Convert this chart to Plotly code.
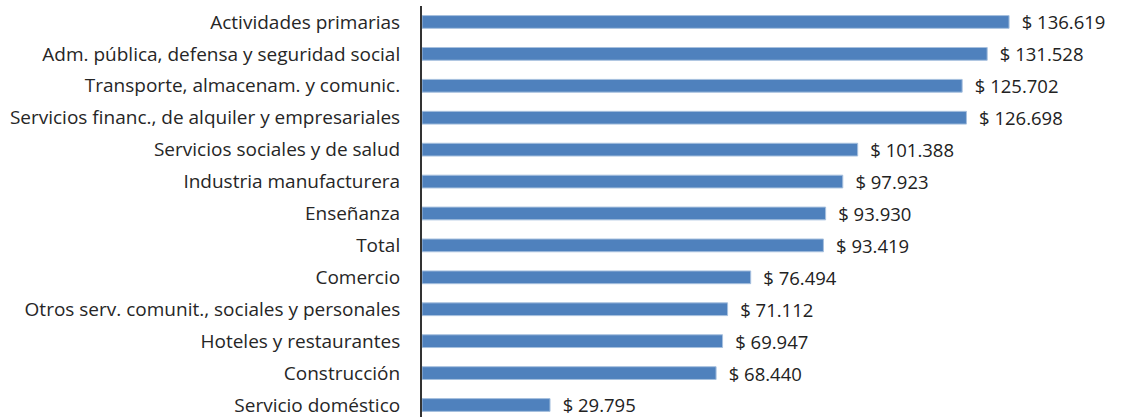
import plotly.graph_objects as go

categories = [
    "Actividades primarias",
    "Adm. pública, defensa y seguridad social",
    "Transporte, almacenam. y comunic.",
    "Servicios financ., de alquiler y empresariales",
    "Servicios sociales y de salud",
    "Industria manufacturera",
    "Enseñanza",
    "Total",
    "Comercio",
    "Otros serv. comunit., sociales y personales",
    "Hoteles y restaurantes",
    "Construcción",
    "Servicio doméstico",
]
values = [136.619, 131.528, 125.702, 126.698, 101.388, 97.923, 93.930,
          93.419, 76.494, 71.112, 69.947, 68.440, 29.795]
value_labels = ["$ 136.619", "$ 131.528", "$ 125.702", "$ 126.698", "$ 101.388",
                "$ 97.923", "$ 93.930", "$ 93.419", "$ 76.494", "$ 71.112",
                "$ 69.947", "$ 68.440", "$ 29.795"]

fig = go.Figure(go.Bar(
    x=values,
    y=categories,
    orientation="h",
    text=value_labels,
    texttemplate="\u00a0\u00a0%{text}",
    textposition="outside",
    constraintext="none",
    textfont=dict(family="Open Sans, sans-serif", size=18.5, color="#222222"),
    cliponaxis=False,
    marker=dict(color="#4F81BD", line=dict(color="#A7C0DE", width=1)),
))

fig.update_layout(
    template="none",
    width=1122, height=417,
    margin=dict(l=422, r=0, t=6, b=0),
    paper_bgcolor="white", plot_bgcolor="white",
    bargap=0.6,
    showlegend=False,
    font=dict(family="Open Sans, sans-serif", size=19, color="#262626"),
)
fig.update_xaxes(range=[0, 162.9], visible=False, showgrid=False, zeroline=False,
                 automargin=False)
fig.update_yaxes(
    range=[12.376, -0.5], automargin=False,
    showline=True, linecolor="#333333", linewidth=2,
    showgrid=False, zeroline=False, ticks="", ticklabelstandoff=16,
)

fig.write_html("out.html",
               config={"displayModeBar": False},
               post_script="document.body.style.margin='0';document.body.style.overflow='hidden';")
